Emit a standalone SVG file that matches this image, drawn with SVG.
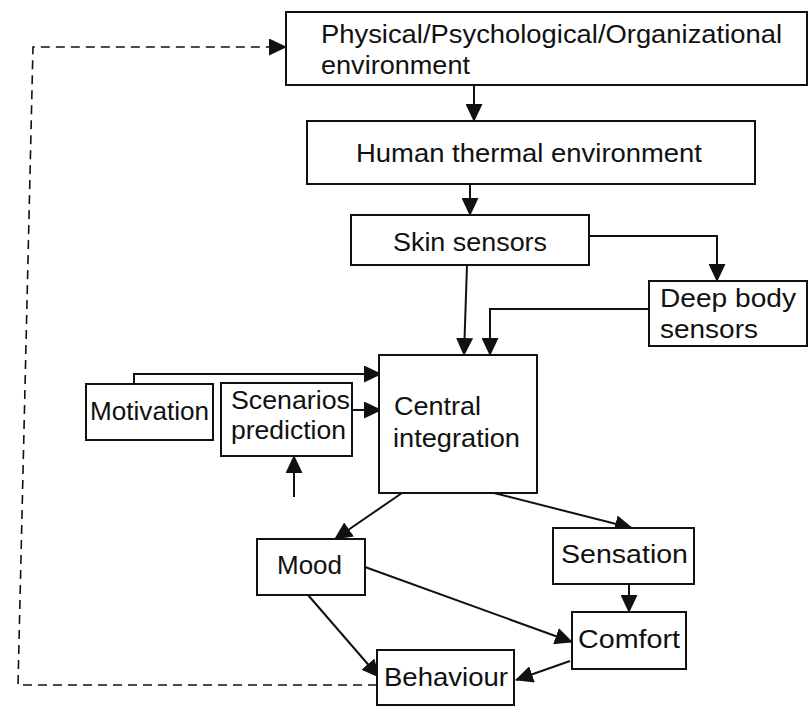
<svg xmlns="http://www.w3.org/2000/svg" width="809" height="706" viewBox="0 0 809 706">
<defs>
<style>
.box{fill:#fff;stroke:#111;stroke-width:2}
.t{font-family:"Liberation Sans",Arial,sans-serif;font-size:26px;fill:#111}
.c{fill:none;stroke:#111;stroke-width:2}
.d{fill:none;stroke:#111;stroke-width:1.6;stroke-dasharray:9 6}
</style>
<marker id="ah" markerUnits="userSpaceOnUse" markerWidth="18" markerHeight="17" refX="17" refY="8.5" orient="auto" viewBox="0 0 18 17">
<path d="M0,0 L18,8.5 L0,17 z" fill="#111"/>
</marker>
</defs>
<rect width="809" height="706" fill="#fff"/>
<g id="connectors">
<path class="c" d="M474 85 L474 121" marker-end="url(#ah)"/>
<path class="c" d="M470 184 L470 215" marker-end="url(#ah)"/>
<path class="c" d="M589 236 L717 236 L717 281" marker-end="url(#ah)"/>
<path class="c" d="M467 265 L464 355" marker-end="url(#ah)"/>
<path class="c" d="M649 309 L490 309 L490 355" marker-end="url(#ah)"/>
<path class="c" d="M134 384 L134 374 L381 374" marker-end="url(#ah)"/>
<path class="c" d="M352 410 L381 410" marker-end="url(#ah)"/>
<path class="c" d="M294 497 L294 456" marker-end="url(#ah)"/>
<path class="c" d="M402 493 L335 539" marker-end="url(#ah)"/>
<path class="c" d="M494 493 L632 528" marker-end="url(#ah)"/>
<path class="c" d="M629 584 L629 612" marker-end="url(#ah)"/>
<path class="c" d="M365 567 L572 642" marker-end="url(#ah)"/>
<path class="c" d="M308 595 L379 677" marker-end="url(#ah)"/>
<path class="c" d="M570 661 L516 680" marker-end="url(#ah)"/>
<path class="d" d="M377 685 L18 685 L33 47 L286 47" marker-end="url(#ah)"/>
</g>
<g id="env"><rect class="box" x="286" y="12" width="521" height="73"/>
<text class="t" x="321" y="43" textLength="461" lengthAdjust="spacingAndGlyphs">Physical/Psychological/Organizational</text>
<text class="t" x="321" y="74" textLength="149" lengthAdjust="spacingAndGlyphs">environment</text></g>
<g id="human"><rect class="box" x="307" y="121" width="448" height="63"/>
<text class="t" x="356" y="162" textLength="346" lengthAdjust="spacingAndGlyphs">Human thermal environment</text></g>
<g id="skin"><rect class="box" x="351" y="215" width="238" height="50"/>
<text class="t" x="393" y="251" textLength="154" lengthAdjust="spacingAndGlyphs">Skin sensors</text></g>
<g id="deep"><rect class="box" x="649" y="281" width="158" height="65"/>
<text class="t" x="660" y="307" textLength="136" lengthAdjust="spacingAndGlyphs">Deep body</text>
<text class="t" x="660" y="338" textLength="98" lengthAdjust="spacingAndGlyphs">sensors</text></g>
<g id="central"><rect class="box" x="379" y="355" width="158" height="138"/>
<text class="t" x="394" y="415" textLength="87" lengthAdjust="spacingAndGlyphs">Central</text>
<text class="t" x="393" y="447" textLength="127" lengthAdjust="spacingAndGlyphs">integration</text></g>
<g id="motivation"><rect class="box" x="86" y="384" width="127" height="56"/>
<text class="t" x="90" y="420" textLength="119" lengthAdjust="spacingAndGlyphs">Motivation</text></g>
<g id="scenarios"><rect class="box" x="221" y="383" width="131" height="73"/>
<text class="t" x="231" y="409" textLength="119" lengthAdjust="spacingAndGlyphs">Scenarios</text>
<text class="t" x="231" y="439" textLength="115" lengthAdjust="spacingAndGlyphs">prediction</text></g>
<g id="mood"><rect class="box" x="257" y="539" width="108" height="56"/>
<text class="t" x="277" y="574" textLength="65" lengthAdjust="spacingAndGlyphs">Mood</text></g>
<g id="sensation"><rect class="box" x="553" y="528" width="141" height="56"/>
<text class="t" x="561" y="563" textLength="127" lengthAdjust="spacingAndGlyphs">Sensation</text></g>
<g id="comfort"><rect class="box" x="572" y="612" width="114" height="57"/>
<text class="t" x="578" y="648" textLength="102" lengthAdjust="spacingAndGlyphs">Comfort</text></g>
<g id="behaviour"><rect class="box" x="377" y="650" width="137" height="55"/>
<text class="t" x="384" y="686" textLength="124" lengthAdjust="spacingAndGlyphs">Behaviour</text></g>
</svg>
